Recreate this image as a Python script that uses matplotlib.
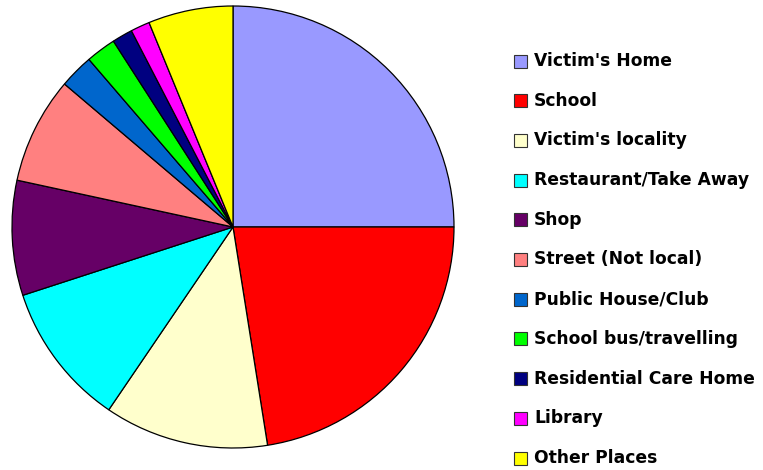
import matplotlib.pyplot as plt
from matplotlib.patches import Rectangle

labels = ["Victim's Home", "School", "Victim's locality", "Restaurant/Take Away",
          "Shop", "Street (Not local)", "Public House/Club", "School bus/travelling",
          "Residential Care Home", "Library", "Other Places"]
shares = [25.0, 22.5, 12.0, 10.5, 8.4, 7.8, 2.5, 2.2, 1.5, 1.4, 6.2]
colors = ["#9999FF", "#FF0000", "#FFFFCC", "#00FFFF", "#660066", "#FF8080",
          "#0066CC", "#00FF00", "#000080", "#FF00FF", "#FFFF00"]

W, H = 763, 470
fig = plt.figure(figsize=(W / 100, H / 100), dpi=100)

# pie: centre (233, 227) px, radius 221 px
cx, cy, r = 233, 227, 221
ax = fig.add_axes([(cx - r) / W, (H - cy - r) / H, 2 * r / W, 2 * r / H])
ax.pie(shares, colors=colors, startangle=90, counterclock=False, radius=1,
       wedgeprops=dict(edgecolor="black", linewidth=0.9, clip_on=False))
ax.set_xlim(-1, 1)
ax.set_ylim(-1, 1)
ax.set_aspect("equal")
ax.axis("off")

# legend drawn by hand
y0, dy = 61, 39.7
for i, (lab, col) in enumerate(zip(labels, colors)):
    y = y0 + i * dy
    fig.patches.append(Rectangle((514 / W, (H - y - 6.5) / H), 13 / W, 13 / H,
                                 transform=fig.transFigure, facecolor=col,
                                 edgecolor="#333333", linewidth=0.8))
    fig.text(534 / W, (H - y) / H, lab, fontsize=12.3, fontweight="bold",
             va="center", ha="left", color="black")

fig.savefig("out.png", dpi=100)
